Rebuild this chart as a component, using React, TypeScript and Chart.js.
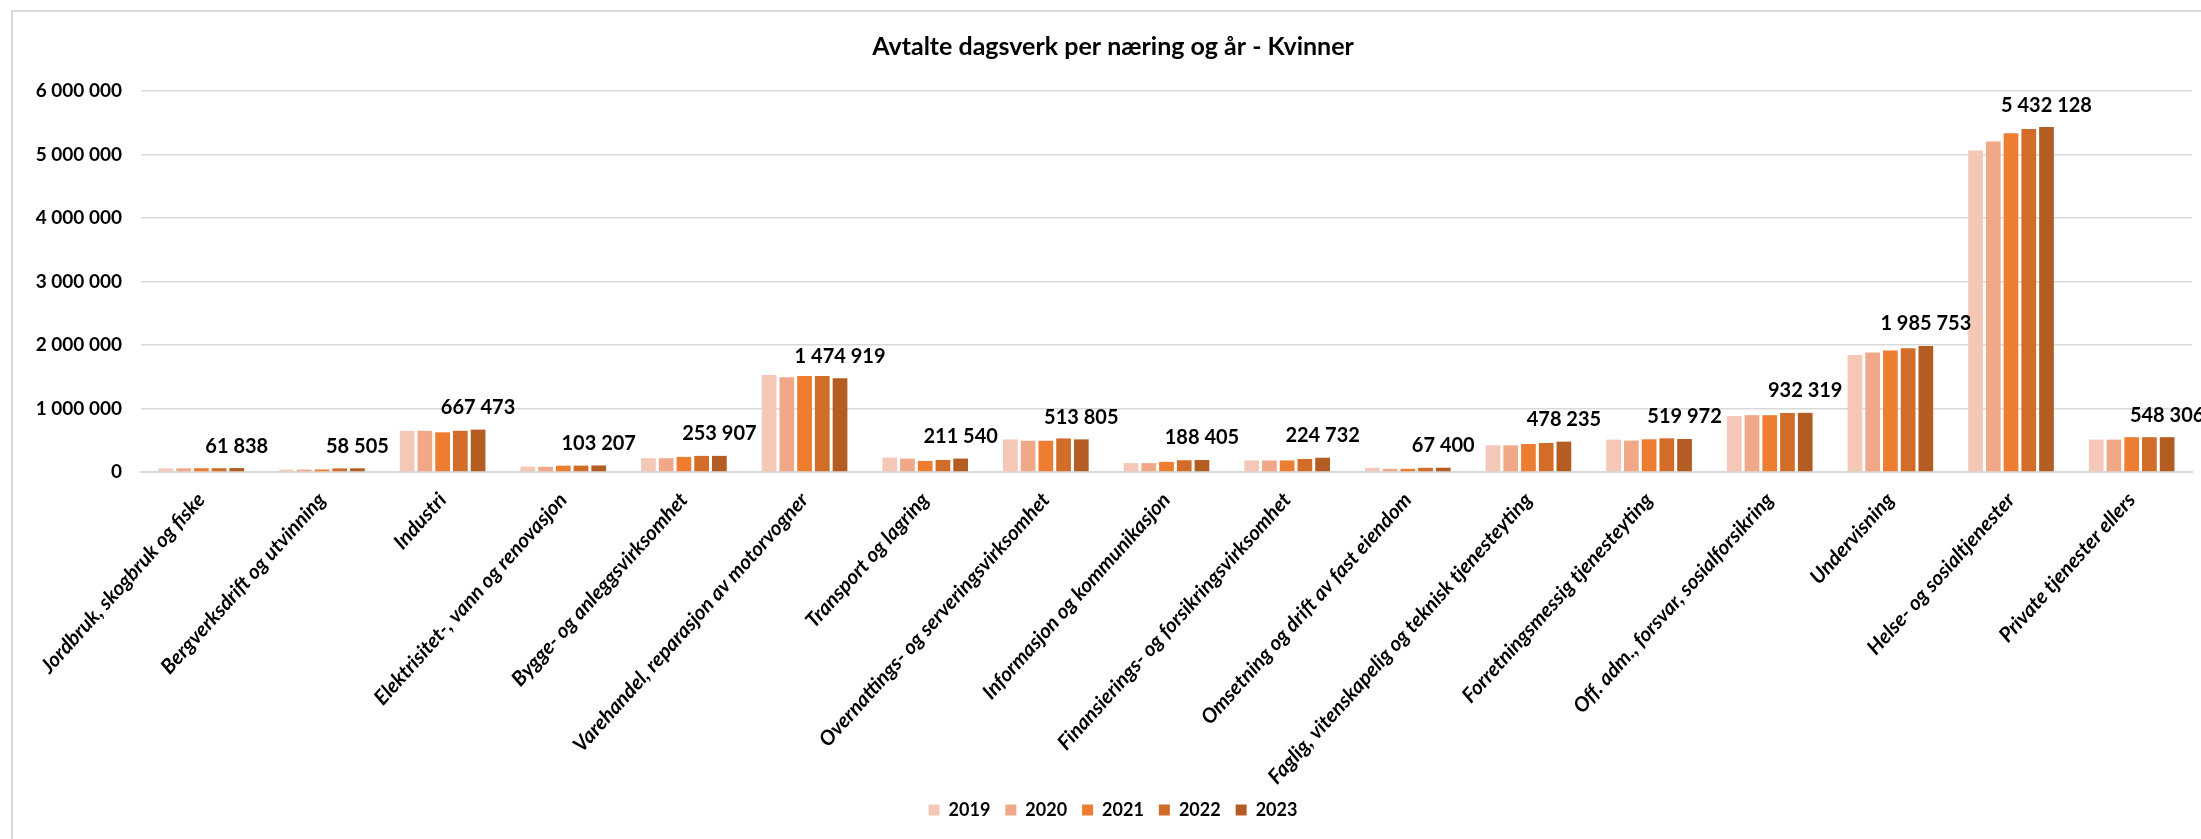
import React, { useEffect, useRef } from "react";
import { Chart, registerables } from "chart.js";
Chart.register(...registerables);

const categories = [
  "Jordbruk, skogbruk og fiske",
  "Bergverksdrift og utvinning",
  "Industri",
  "Elektrisitet-, vann og renovasjon",
  "Bygge- og anleggsvirksomhet",
  "Varehandel, reparasjon av motorvogner",
  "Transport og lagring",
  "Overnattings- og serveringsvirksomhet",
  "Informasjon og kommunikasjon",
  "Finansierings- og forsikringsvirksomhet",
  "Omsetning og drift av fast eiendom",
  "Faglig, vitenskapelig og teknisk tjenesteyting",
  "Forretningsmessig tjenesteyting",
  "Off. adm., forsvar, sosialforsikring",
  "Undervisning",
  "Helse- og sosialtjenester",
  "Private tjenester ellers",
];

const years = ["2019", "2020", "2021", "2022", "2023"];

const v2019 = [57000, 38000, 649000, 85000, 217000, 1528000, 227000, 513000, 140000, 182000, 67000, 420000, 510000, 880000, 1844000, 5063000, 510000];
const v2020 = [58000, 38000, 649000, 82000, 217000, 1491000, 211000, 492000, 140000, 182000, 50000, 420000, 495000, 895000, 1880000, 5205000, 510000];
const v2021 = [60000, 40000, 625000, 100000, 238000, 1512000, 174000, 492000, 160000, 182000, 50000, 441000, 515000, 895000, 1912000, 5333000, 548000];
const v2022 = [60000, 57000, 649000, 101000, 254000, 1512000, 190000, 529000, 185000, 205000, 66000, 457000, 530000, 930000, 1949000, 5400000, 548000];
const v2023 = [61838, 58505, 667473, 103207, 253907, 1474919, 211540, 513805, 188405, 224732, 67400, 478235, 519972, 932319, 1985753, 5432128, 548306];

const series = [v2019, v2020, v2021, v2022, v2023];
const colors = ["#F4C7B6", "#F0A889", "#ED7D31", "#D26D29", "#B35D22"];

const titleText = "Avtalte dagsverk per næring og år - Kvinner";
const FONT = "Lato, 'Open Sans', sans-serif";

function fmt(n: number): string {
  return Math.round(n).toString().replace(/\B(?=(\d{3})+(?!\d))/g, " ");
}

export default function App() {
  const ref = useRef<HTMLCanvasElement>(null);

  useEffect(() => {
    if (!ref.current) return;
    let xHeight = 300;
    let titleBottom = 30;

    const labelPlugin = {
      id: "lastLabels",
      afterDatasetsDraw(chart: any) {
        const meta = chart.getDatasetMeta(4);
        const ctx = chart.ctx;
        ctx.save();
        ctx.font = `bold 20px ${FONT}`;
        ctx.fillStyle = "#000";
        ctx.textAlign = "center";
        ctx.textBaseline = "middle";
        meta.data.forEach((el: any, i: number) => {
          ctx.fillText(fmt(v2023[i]), el.x, el.y - 22);
        });
        ctx.restore();
      },
    };

    const chart = new Chart(ref.current, {
      type: "bar",
      data: {
        labels: categories,
        datasets: series.map((d, i) => ({
          label: years[i],
          data: d,
          backgroundColor: colors[i],
          borderWidth: 0,
          barPercentage: 0.83,
          categoryPercentage: 0.735,
        })),
      },
      options: {
        responsive: false,
        animation: false,
        devicePixelRatio: 1,
        layout: { padding: { left: 34, right: 34, top: 0, bottom: 10 } },
        plugins: {
          title: {
            display: true,
            text: titleText,
            color: "#000",
            font: { family: FONT, size: 25, weight: "bold" },
            padding: { top: 32, bottom: titleBottom },
          },
          legend: {
            position: "bottom",
            labels: {
              boxWidth: 11,
              boxHeight: 11,
              padding: 15,
              color: "#000",
              font: { family: FONT, size: 18, weight: "bold" },
            },
          },
          tooltip: { enabled: false },
        },
        scales: {
          x: {
            grid: { display: false },
            border: { color: "#D9D9D9", width: 2 },
            ticks: {
              minRotation: 48,
              maxRotation: 48,
              autoSkip: false,
              padding: 8,
              color: "#000",
              font: { family: FONT, size: 20.5, weight: "bold", style: "italic" },
            },
            afterFit: (s: any) => {
              s.height = xHeight;
            },
          },
          y: {
            min: 0,
            max: 6000000,
            ticks: {
              stepSize: 1000000,
              padding: 19,
              color: "#000",
              font: { family: FONT, size: 19, weight: "bold" },
              callback: (v: any) => fmt(Number(v)),
            },
            grid: { color: "#D9D9D9", lineWidth: 1.5, drawTicks: false },
            border: { display: false },
            afterFit: (s: any) => {
              s.width = 107;
            },
          },
        },
      },
      plugins: [labelPlugin],
    });

    const ca = chart.chartArea;
    xHeight += ca.bottom - 472;
    titleBottom += 91 - ca.top;
    (chart.options.plugins as any).title.padding = { top: 32, bottom: titleBottom };
    chart.update();

    return () => chart.destroy();
  }, []);

  return (
    <div
      style={{
        position: "fixed",
        left: 0,
        top: 0,
        width: 2201,
        height: 839,
        overflow: "hidden",
        background: "#fff",
      }}
    >
      <canvas
        ref={ref}
        width={2226}
        height={839}
        style={{ position: "absolute", left: 0, top: 0, width: 2226, height: 839 }}
      />
      <div
        style={{
          position: "absolute",
          left: 11,
          top: 10,
          width: 2300,
          height: 900,
          border: "2px solid #D9D9D9",
          pointerEvents: "none",
        }}
      />
    </div>
  );
}
